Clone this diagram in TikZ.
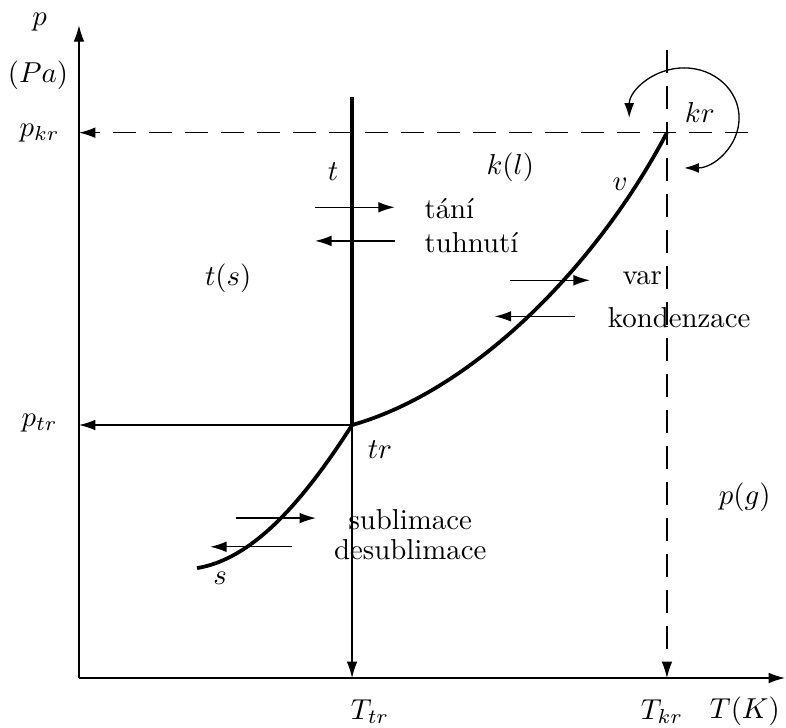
\documentclass[tikz,border=0pt]{standalone}
\usetikzlibrary{arrows.meta}

\tikzset{
  axisarrow/.style={-{Latex[length=2mm, width=1.3mm]}, line width=0.45pt},
  phasearrow/.style={-{Latex[length=2mm, width=1.3mm]}, line width=0.45pt},
  dashline/.style={dash pattern=on 8pt off 4.5pt, line width=0.45pt},
  curveline/.style={line width=1.3pt},
}

\begin{document}
\begin{tikzpicture}[font=\normalsize]
  \useasboundingbox (-0.963,-0.598) rectangle (8.622,8.268);

  % --- axes ---
  \coordinate (O) at (0,0);
  \coordinate (ytop) at (0,7.96);
  \coordinate (xend) at (8.61,0);
  \draw[axisarrow] (O) -- (ytop);
  \draw[axisarrow] (O) -- (xend);

  % --- special points ---
  \coordinate (tr) at (3.33,3.085);
  \coordinate (kr) at (7.17,6.65);
  \coordinate (s) at (1.44,1.34);
  \coordinate (Ttr) at (3.33,0);
  \coordinate (Tkr) at (7.17,0);
  \coordinate (ptr) at (0,3.085);
  \coordinate (pkr) at (0,6.65);
  \coordinate (ttop) at (3.33,7.085);
  \coordinate (Tkrtop) at (7.17,7.66);
  \coordinate (pkrend) at (8.16,6.65);

  % --- phase boundaries ---
  \draw[curveline] (tr) -- (ttop);
  \draw[curveline] (s) .. controls (2.1,1.45) and (2.7,2.1) .. (tr);
  \draw[curveline] (tr) .. controls (4.8,3.5) and (6.3,5.0) .. (kr);

  % --- projections onto the axes ---
  \draw[axisarrow] (tr) -- (Ttr);
  \draw[axisarrow] (tr) -- (ptr);
  \draw[dashline, axisarrow] (pkrend) -- (pkr);
  \draw[dashline, axisarrow] (Tkrtop) -- (Tkr);

  % --- round trip past the critical point ---
  \coordinate (loopstart) at (6.71,6.83);
  \draw[{Latex[length=1.8mm, width=1.2mm]}-{Latex[length=1.8mm, width=1.2mm]}, line width=0.45pt]
    (loopstart) arc[start angle=180, end angle=-90, x radius=0.67, y radius=0.61];

  % --- transition arrows ---
  \coordinate (tani1) at (2.88,5.74);   \coordinate (tani2) at (3.85,5.74);
  \coordinate (tuhn1) at (3.85,5.33);   \coordinate (tuhn2) at (2.88,5.33);
  \coordinate (var1) at (5.26,4.85);    \coordinate (var2) at (6.23,4.85);
  \coordinate (kond1) at (6.05,4.41);   \coordinate (kond2) at (5.07,4.41);
  \coordinate (subl1) at (1.91,1.95);   \coordinate (subl2) at (2.89,1.95);
  \coordinate (desub1) at (2.60,1.60);  \coordinate (desub2) at (1.60,1.60);
  \draw[phasearrow] (tani1) -- (tani2);
  \draw[phasearrow] (tuhn1) -- (tuhn2);
  \draw[phasearrow] (var1) -- (var2);
  \draw[phasearrow] (kond1) -- (kond2);
  \draw[phasearrow] (subl1) -- (subl2);
  \draw[phasearrow] (desub1) -- (desub2);

  % --- axis labels ---
  \node (plab) at (-0.48,8.0) {$p$};
  \node (punit) at (-0.5,7.35) {$(Pa)$};
  \node (pkrlab) at (-0.48,6.65) {$p_{kr}$};
  \node (ptrlab) at (-0.48,3.11) {$p_{tr}$};
  \node (Ttrlab) at (3.55,-0.41) {$T_{tr}$};
  \node (Tkrlab) at (7.11,-0.41) {$T_{kr}$};
  \node (Tlab) at (8.12,-0.41) {$T(K)$};

  % --- region and point labels ---
  \node (tlab) at (3.10,6.17) {$t$};
  \node (kllab) at (5.26,6.23) {$k(l)$};
  \node (vlab) at (6.6,6.02) {$v$};
  \node (krlab) at (7.57,6.9) {$kr$};
  \node (tslab) at (1.82,4.88) {$t(s)$};
  \node (trlab) at (3.67,2.78) {$tr$};
  \node (pglab) at (8.12,2.2) {$p(g)$};
  \node (slab) at (1.72,1.22) {$s$};

  % --- transition names ---
  \node[anchor=west] (tanilab) at (4.09,5.72) {tání};
  \node[anchor=west] (tuhnlab) at (4.09,5.31) {tuhnutí};
  \node (varlab) at (6.87,4.87) {var};
  \node (kondlab) at (7.32,4.40) {kondenzace};
  \node (subllab) at (4.04,1.93) {sublimace};
  \node (desublab) at (4.04,1.57) {desublimace};
\end{tikzpicture}
\end{document}
